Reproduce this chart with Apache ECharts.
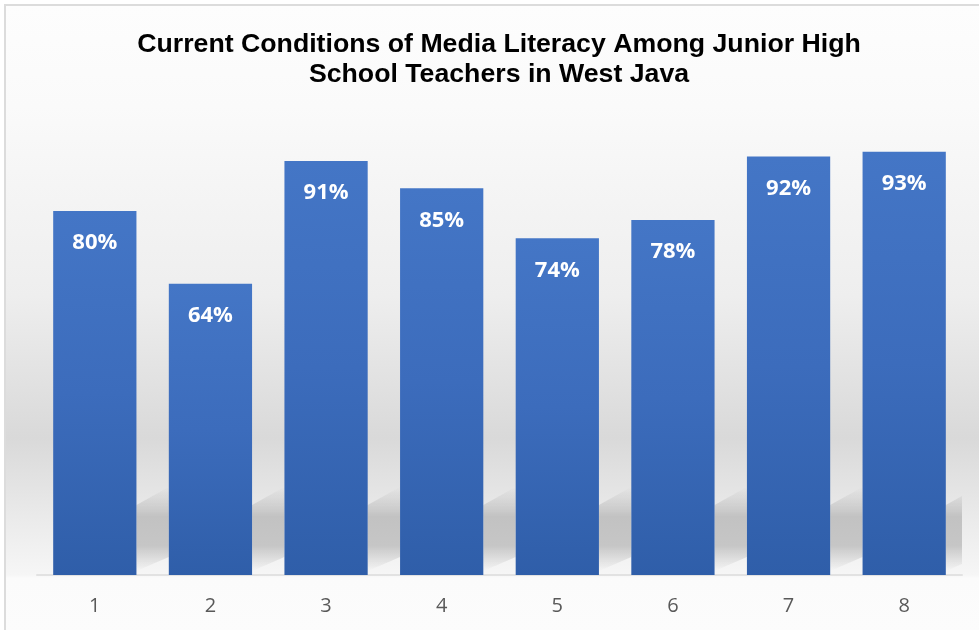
<!DOCTYPE html>
<html>
<head>
<meta charset="utf-8">
<script src="https://cdn.jsdelivr.net/npm/echarts@6/dist/echarts.min.js"></script>
<style>
    html, body { margin: 0; padding: 0; background: #fff; }
    .wrap { position: relative; width: 979px; height: 630px; overflow: hidden; background: #fff; }
    .bg {
        position: absolute; left: 4px; top: 4px; width: 1000px; height: 700px;
        border-left: 2px solid #dcdcdc; border-top: 2px solid #dcdcdc;
        background: linear-gradient(to bottom, #fdfdfd 0px, #fafafa 100px, #eeeeee 290px,
            #d9d9d9 432px, #ebebeb 515px, #f6f6f6 569px, #fbfbfb 572px, #fcfcfc 626px);
    }
    #chart { position: absolute; left: 0; top: 0; width: 979px; height: 630px; }
</style>
</head>
<body>
<div class="wrap">
    <div class="bg"></div>
    <div id="chart"></div>
</div>
<script>
// 数据
const categories = ['1', '2', '3', '4', '5', '6', '7', '8'];
const percentValues = [80, 64, 91, 85, 74, 78, 92, 93];
const chartTitle = 'Current Conditions of Media Literacy Among Junior High\nSchool Teachers in West Java';

let mychart = echarts.init(document.getElementById('chart'));

// 柱子后面的斜影
const shadowFill = new echarts.graphic.LinearGradient(0, 0, 0, 1, [
    { offset: 0, color: 'rgba(196,196,196,0)' },
    { offset: 0.35, color: 'rgba(194,194,194,1)' },
    { offset: 0.7, color: 'rgba(198,198,198,1)' },
    { offset: 1, color: 'rgba(205,205,205,0)' }
]);

mychart.setOption({
    title: {
        text: chartTitle,
        left: 494,
        top: 25,
        textAlign: 'center',
        textStyle: {
            fontFamily: 'Liberation Sans',
            fontWeight: 'bold',
            fontSize: 26.7,
            lineHeight: 30,
            color: '#000'
        }
    },
    grid: { left: 37, right: 17, top: 120, bottom: 55 },
    xAxis: {
        type: 'category',
        data: categories,
        axisTick: { show: false },
        axisLine: { lineStyle: { color: '#e2e2e2', width: 2 } },
        axisLabel: {
            color: '#595959',
            fontFamily: 'Open Sans',
            fontSize: 20,
            margin: 21
        }
    },
    yAxis: {
        type: 'value',
        min: 0,
        max: 100,
        show: false,
        splitLine: { show: false }
    },
    series: [
        {
            type: 'custom',
            z: 1,
            clip: true,
            silent: true,
            data: percentValues.map((v, i) => [i, v]),
            renderItem: function (params, api) {
                const base = api.coord([api.value(0), 0]);
                const band = api.size([1, 0])[0];
                const barW = band * 0.72;
                const gap = band - barW;
                const x1 = base[0] + barW / 2;
                const y = base[1];
                return {
                    type: 'polygon',
                    shape: {
                        points: [[x1, y - 70], [x1 + gap, y - 88], [x1 + gap, y - 18], [x1, y - 4]]
                    },
                    style: { fill: shadowFill }
                };
            }
        },
        {
            type: 'bar',
            z: 2,
            data: percentValues,
            barWidth: '72%',
            itemStyle: {
                color: new echarts.graphic.LinearGradient(0, 0, 0, 1, [
                    { offset: 0, color: '#4476c6' },
                    { offset: 0.5, color: '#3c6cbc' },
                    { offset: 1, color: '#2f5ea9' }
                ])
            },
            label: {
                show: true,
                position: 'insideTop',
                distance: 20,
                formatter: '{c}%',
                color: '#fff',
                fontFamily: 'Open Sans',
                fontWeight: 'bold',
                fontSize: 22,
                lineHeight: 24
            }
        }
    ]
});
window.addEventListener('resize', () => {
    mychart.resize();
});
</script>
</body>
</html>
